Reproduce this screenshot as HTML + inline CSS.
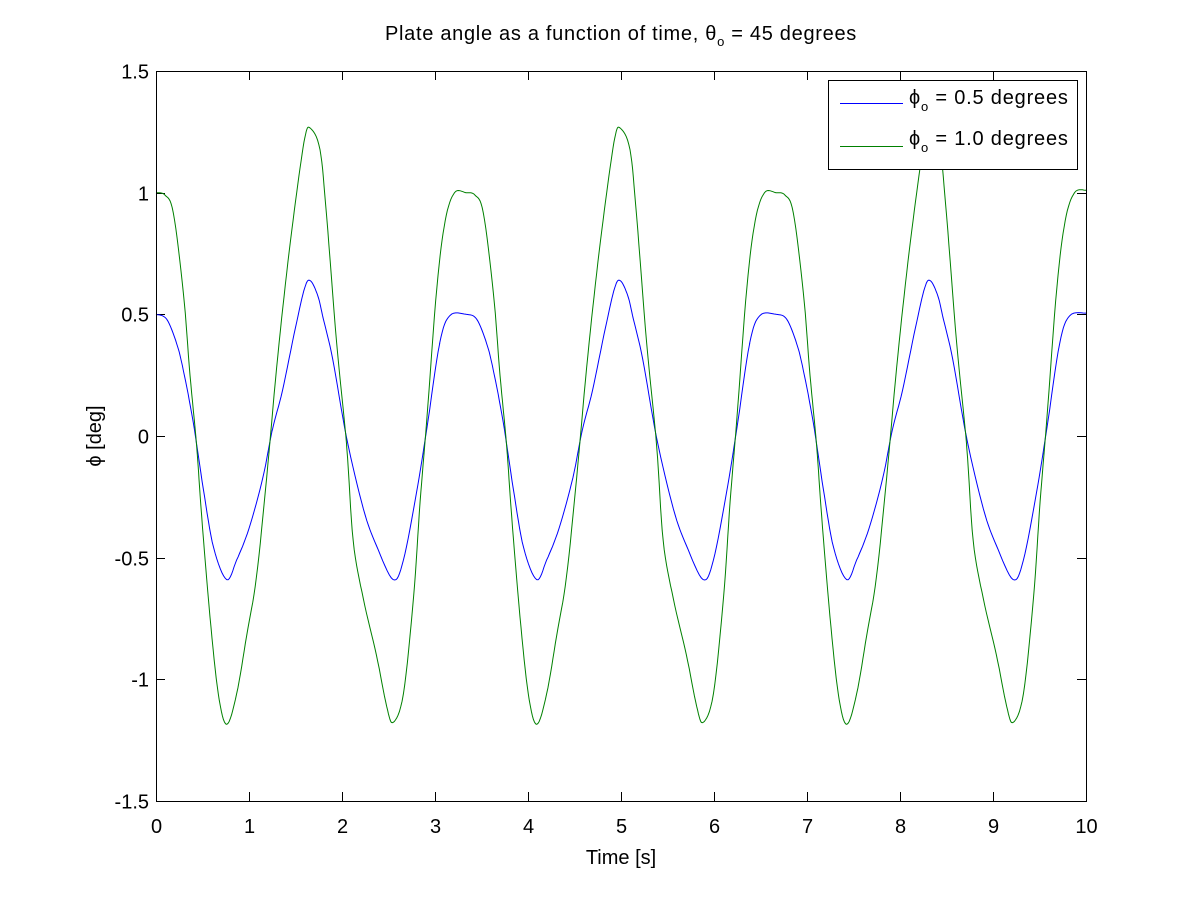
<!DOCTYPE html>
<html><head><meta charset="utf-8"><style>
html,body{margin:0;padding:0;background:#fff;}
svg{display:block;font-family:"Liberation Sans",Arial,sans-serif;}
</style></head><body>
<svg id="s" width="1200" height="900" xmlns="http://www.w3.org/2000/svg">
<rect x="0" y="0" width="1200" height="900" fill="#fff"/>
<g id="ticks" stroke="#000" stroke-width="1"></g>
<g id="curves" fill="none" stroke-width="1"></g>
<rect x="156.5" y="71.5" width="930" height="730" fill="none" stroke="#000" stroke-width="1"/>
<g font-size="20" fill="#000" id="labels"></g>
<text x="385" y="40" font-size="20" letter-spacing="0.7">Plate angle as a function of time, θ<tspan font-size="13" dy="6">o</tspan><tspan dy="-6"> = 45 degrees</tspan></text>
<text x="621" y="864" font-size="20" text-anchor="middle">Time [s]</text>
<text transform="translate(101,436) rotate(-90)" font-size="20" text-anchor="middle">ϕ [deg]</text>
<rect x="828.5" y="80.5" width="249" height="89" fill="#fff" stroke="#000" stroke-width="1"/>
<line x1="840" y1="103.5" x2="903" y2="103.5" stroke="#0000ff"/>
<line x1="840" y1="146.5" x2="903" y2="146.5" stroke="#008000"/>
<text x="909" y="104" font-size="20" letter-spacing="0.8">ϕ<tspan font-size="13" dy="7">o</tspan><tspan dy="-7"> = 0.5 degrees</tspan></text>
<text x="909" y="145" font-size="20" letter-spacing="0.8">ϕ<tspan font-size="13" dy="7">o</tspan><tspan dy="-7"> = 1.0 degrees</tspan></text>
</svg>
<script>
var NS="http://www.w3.org/2000/svg";
function X(t){return 156+t*93;}
function Y(v){return 436-v*243.33;}
var tk=document.getElementById('ticks'),lb=document.getElementById('labels');
function el(p,n,a,txt){var e=document.createElementNS(NS,n);for(var k in a)e.setAttribute(k,a[k]);if(txt!=null)e.textContent=txt;p.appendChild(e);return e;}
for(var i=0;i<=10;i++){var x=Math.round(X(i))+0.5;
 el(tk,'line',{x1:x,y1:801,x2:x,y2:792});el(tk,'line',{x1:x,y1:71,x2:x,y2:80});
 el(lb,'text',{x:x,y:833,'text-anchor':'middle'},String(i));}
var yl=[1.5,1,0.5,0,-0.5,-1,-1.5];
yl.forEach(function(v){var y=Math.round(Y(v))+0.5;
 el(tk,'line',{x1:156,y1:y,x2:165,y2:y});el(tk,'line',{x1:1086,y1:y,x2:1077,y2:y});
 el(lb,'text',{x:149,y:y+7,'text-anchor':'end'},String(v));});
var G=[[0,1.0],[0.097,0.99],[0.186,0.917],[0.294,0.59],[0.366,0.25],[0.437,-0.04],[0.491,-0.33],[0.58,-0.74],[0.67,-1.06],[0.76,-1.185],[0.867,-1.06],[0.975,-0.82],[1.08,-0.58],[1.19,-0.17],[1.297,0.28],[1.405,0.67],[1.513,1.0],[1.6,1.225],[1.656,1.266],[1.763,1.177],[1.835,0.9],[1.943,0.38],[2.05,-0.04],[2.12,-0.43],[2.23,-0.67],[2.37,-0.9],[2.48,-1.11],[2.55,-1.177],[2.66,-1.06],[2.77,-0.66],[2.84,-0.27],[2.91,0.057],[3.02,0.61],[3.11,0.885],[3.21,1.0]];
var B=[[0,0.5],[0.115,0.48],[0.222,0.38],[0.294,0.27],[0.4,0.057],[0.51,-0.22],[0.62,-0.46],[0.76,-0.59],[0.867,-0.51],[1.0,-0.38],[1.15,-0.17],[1.25,0.024],[1.36,0.187],[1.5,0.446],[1.6,0.61],[1.66,0.638],[1.74,0.576],[1.8,0.48],[1.9,0.316],[2.05,-0.008],[2.23,-0.3],[2.37,-0.45],[2.55,-0.59],[2.66,-0.51],[2.8,-0.235],[2.91,0.024],[3.05,0.38],[3.16,0.495]];
var P=10/3;
function build(K,endV){var pts=[];for(var r=0;r<3;r++)K.forEach(function(p){pts.push([p[0]+r*P,p[1]]);});pts.push([10,endV]);
 var d='';for(var i=0;i<pts.length-1;i++){var p0=pts[Math.max(0,i-1)],p1=pts[i],p2=pts[i+1],p3=pts[Math.min(pts.length-1,i+2)];
  for(var s=0;s<=8;s++){var u=s/8,u2=u*u,u3=u2*u;
   var f=function(a,b,c,e){return 0.5*(2*b+(-a+c)*u+(2*a-5*b+4*c-e)*u2+(-a+3*b-3*c+e)*u3);};
   var t=f(p0[0],p1[0],p2[0],p3[0]),v=f(p0[1],p1[1],p2[1],p3[1]);
   d+=(d?'L':'M')+X(t).toFixed(1)+' '+Y(v).toFixed(1);}}
 return d;}
var cg=document.getElementById('curves');
el(cg,'path',{d:build(B,0.505),stroke:'#0000ff'});
el(cg,'path',{d:build(G,1.01),stroke:'#008000'});
</script>
</body></html>
